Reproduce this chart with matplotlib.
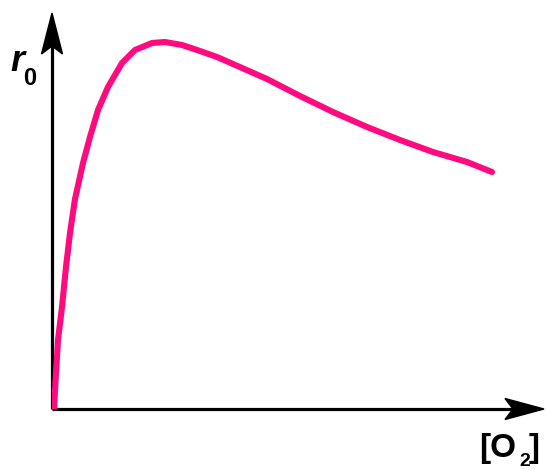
import matplotlib.pyplot as plt
from matplotlib.patches import Polygon

# Werte (willkuerliche Einheiten)
o2 = [2, 4, 6, 10, 14, 18, 23, 31, 38, 46, 56, 70, 83, 100, 113, 130,
      148, 165, 181, 215, 248, 281, 315, 348, 381, 415, 440]
r0 = [0, 36, 69, 102, 142, 176, 210, 246, 272, 299, 322, 346, 359, 366,
      367, 364, 358, 352, 345, 330, 313, 297, 282, 269, 257, 247, 237]

W, H = 546, 470
fig = plt.figure(figsize=(W / 100, H / 100), dpi=100)
# Ursprung bei ca. (52, 409) px, 1 Einheit = 1 px
ax = fig.add_axes([52 / W, (H - 409) / H, 492 / W, 396 / H])
ax.set_xlim(0, 492)
ax.set_ylim(0, 396)
ax.axis('off')

ax.plot(o2, r0, color='#ff0a7f', lw=4.4, solid_capstyle='round',
        solid_joinstyle='round', zorder=3)

# Achsen mit Pfeilspitzen
ax.plot([0, 0], [0, 372], color='black', lw=2.3, solid_capstyle='butt',
        clip_on=False)
ax.plot([0, 466], [0, 0], color='black', lw=2.3, solid_capstyle='butt',
        clip_on=False)
ax.add_patch(Polygon([(0, 396), (-10.5, 355), (0, 363), (10.5, 355)],
                     closed=True, color='black', clip_on=False))
ax.add_patch(Polygon([(492, 0), (453, 10.5), (461, 0), (453, -10.5)],
                     closed=True, color='black', clip_on=False))

font = 'Liberation Sans'
fig.text(10 / W, 1 - 71 / H, 'r', fontsize=26, fontweight='bold',
         fontstyle='italic', family=font, ha='left', va='baseline')
fig.text(23 / W, 1 - 85 / H, '0', fontsize=17, fontweight='bold',
         family=font, ha='left', va='baseline')

fig.text(479 / W, 1 - 457 / H, '[O', fontsize=24, fontweight='bold',
         family=font, ha='left', va='baseline')
fig.text(519 / W, 1 - 466 / H, '2', fontsize=14, fontweight='bold',
         family=font, ha='left', va='baseline')
fig.text(529 / W, 1 - 457 / H, ']', fontsize=24, fontweight='bold',
         family=font, ha='left', va='baseline')

fig.savefig('out.png', dpi=100)
